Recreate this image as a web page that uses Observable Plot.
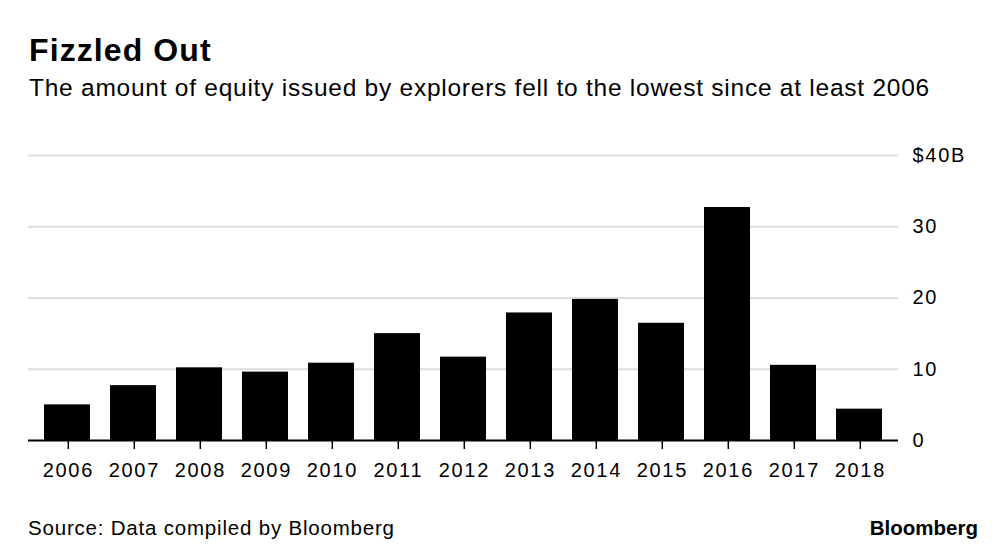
<!DOCTYPE html>
<html>
<head>
<meta charset="utf-8">
<script src="https://cdn.jsdelivr.net/npm/d3@7"></script>
<script src="https://cdn.jsdelivr.net/npm/@observablehq/plot@0.6"></script>
<style>
  html, body { margin: 0; padding: 0; background: #fff; }
  #wrap { position: relative; width: 1000px; height: 552px; font-family: "Liberation Sans", Arial, sans-serif; color: #000; overflow: hidden; }
  .t { position: absolute; line-height: 1; white-space: nowrap; }
  #title { left: 29px; top: 34px; font-size: 32px; font-weight: bold; letter-spacing: 1.1px; }
  #subtitle { left: 29px; top: 76px; font-size: 24.5px; letter-spacing: 0.75px; }
  #chart { position: absolute; left: 0; top: 130px; }
  #source { left: 28px; top: 518px; font-size: 20.5px; letter-spacing: 0.8px; }
  #brand { right: 22px; top: 518px; font-size: 20.5px; font-weight: bold; }
</style>
</head>
<body>
<div id="wrap">
  <div class="t" id="title">Fizzled Out</div>
  <div class="t" id="subtitle">The amount of equity issued by explorers fell to the lowest since at least 2006</div>
  <div id="chart"></div>
  <div class="t" id="source">Source: Data compiled by Bloomberg</div>
  <div class="t" id="brand">Bloomberg</div>
</div>
<script>
const years = ["2006","2007","2008","2009","2010","2011","2012","2013","2014","2015","2016","2017","2018"];
const equityBillions = [5.0, 7.7, 10.2, 9.6, 10.85, 15.0, 11.7, 17.9, 19.8, 16.45, 32.7, 10.55, 4.4];
const yTicks = [0, 10, 20, 30, 40];
const gridTicks = [10, 20, 30, 40];

const data = years.map((y, i) => ({year: y, value: equityBillions[i]}));

const chart = Plot.plot({
  width: 1000,
  height: 370,
  marginLeft: 28,
  marginRight: 102,
  marginTop: 25,
  marginBottom: 60,
  style: {fontFamily: '"Liberation Sans", Arial, sans-serif', fontSize: "20px", color: "#000", background: "transparent", letterSpacing: "1.7px"},
  x: {domain: years, paddingInner: 0.305, paddingOuter: 0.22, label: null},
  y: {domain: [0, 40], label: null},
  marks: [
    Plot.ruleY(gridTicks, {stroke: "#dddddd", strokeWidth: 2}),
    Plot.barY(data, {x: "year", y: "value", fill: "#000"}),
    Plot.ruleY([0], {stroke: "#000", strokeWidth: 2}),
    Plot.axisX({tickSize: 9, tickPadding: 13, fontSize: 20, stroke: "#000", strokeWidth: 1.5, label: null, dx: 0.8}),
    Plot.axisY({anchor: "right", ticks: yTicks, tickSize: 0, tickPadding: 14, fontSize: 20, label: null,
      tickFormat: d => d === 40 ? "$40B" : String(d)})
  ]
});
document.getElementById("chart").appendChild(chart);
</script>
</body>
</html>
